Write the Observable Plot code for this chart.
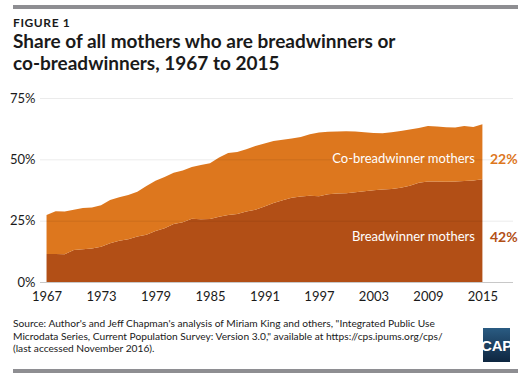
<!DOCTYPE html>
<html>
<head>
<meta charset="utf-8">
<script src="https://cdn.jsdelivr.net/npm/d3@7"></script>
<script src="https://cdn.jsdelivr.net/npm/@observablehq/plot@0.6"></script>
<style>
  html, body { margin: 0; padding: 0; background: #fff; }
  #wrap { position: relative; width: 524px; height: 380px; overflow: hidden; font-family: Lato, "Open Sans", sans-serif; color: #1a1a1a; }
  .bar { position: absolute; left: 13px; width: 505px; height: 4px; background: #8e8e92; }
  #fig { position: absolute; left: 13px; top: 15px; font-size: 12px; font-weight: 700; letter-spacing: 0.6px; }
  #title { position: absolute; left: 13px; top: 30px; font-size: 19px; font-weight: 700; line-height: 22px; }
  #chart { position: absolute; left: 0; top: 85px; }
  #source { position: absolute; left: 13px; top: 317px; font-size: 10.2px; line-height: 12.7px; }
  #logo { position: absolute; left: 483px; top: 328px; width: 27px; height: 34px; background: linear-gradient(#2a5b82, #0e2640); color: #fff; font: 700 15px "Liberation Sans Narrow", sans-serif; display: flex; align-items: center; justify-content: center; letter-spacing: -0.3px; }
</style>
</head>
<body>
<div id="wrap">
  <div class="bar" style="top:5px"></div>
  <div id="fig">FIGURE 1</div>
  <div id="title">Share of all mothers who are breadwinners or<br>co-breadwinners, 1967 to 2015</div>
  <div id="chart"></div>
  <div id="source">Source: Author's and Jeff Chapman's analysis of Miriam King and others, "Integrated Public Use<br>Microdata Series, Current Population Survey: Version 3.0," available at https://cps.ipums.org/cps/<br>(last accessed November 2016).</div>
  <div id="logo">CAP</div>
  <div class="bar" style="top:369px"></div>
</div>
<script>
const years = [1967,1968,1969,1970,1971,1972,1973,1974,1975,1976,1977,1978,1979,1980,1981,1982,1983,1984,1985,1986,1987,1988,1989,1990,1991,1992,1993,1994,1995,1996,1997,1998,1999,2000,2001,2002,2003,2004,2005,2006,2007,2008,2009,2010,2011,2012,2013,2014,2015];
const breadwinner = [11.4,11.4,11.3,13.0,13.3,13.7,14.4,15.8,16.8,17.4,18.5,19.3,20.8,21.9,23.6,24.4,25.8,25.6,25.7,26.6,27.3,27.7,28.7,29.4,30.8,32.2,33.3,34.3,34.8,35.2,35.0,35.8,36.1,36.2,36.6,37.0,37.4,37.7,37.9,38.4,39.2,40.5,41.0,41.0,40.9,41.0,41.2,41.4,41.9];
const coBreadwinner = [15.9,17.4,17.4,16.5,16.9,16.7,16.9,17.6,17.7,18.1,18.3,19.8,20.5,20.9,20.9,21.0,21.1,22.1,22.7,24.1,25.3,25.3,25.4,26.0,25.7,25.3,24.7,24.2,24.3,25.0,25.9,25.4,25.2,25.2,24.7,24.0,23.3,22.9,23.1,23.1,23.0,22.3,22.6,22.4,22.2,22.0,22.4,21.8,22.4];
const seriesNames = ["Breadwinner mothers", "Co-breadwinner mothers"];
const seriesColors = ["#b24f16", "#dd771e"];
const xTicks = [1967,1973,1979,1985,1991,1997,2003,2009,2015];
const yTicks = [0,25,50,75];

const table = [];
seriesNames.forEach((s, i) => {
  const vals = i === 0 ? breadwinner : coBreadwinner;
  years.forEach((y, j) => table.push({year: y, series: s, value: vals[j]}));
});

const last = years.length - 1;
const labelRows = [
  {series: seriesNames[0], year: years[last], mid: breadwinner[last] / 2, pct: Math.round(breadwinner[last]) + "%"},
  {series: seriesNames[1], year: years[last], mid: breadwinner[last] + coBreadwinner[last] / 2, pct: Math.round(coBreadwinner[last]) + "%"}
];

const font = "Lato, 'Open Sans', sans-serif";
const chart = Plot.plot({
  width: 524,
  height: 215,
  marginLeft: 40,
  marginRight: 11,
  marginTop: 13,
  marginBottom: 18,
  style: {fontFamily: font, fontSize: "13px", color: "#1a1a1a", background: "transparent", overflow: "visible"},
  x: {domain: [1966.28, 2018.37], ticks: xTicks, tickFormat: d => String(d), tickSize: 0, tickPadding: 9, label: null},
  y: {domain: [0, 75], ticks: yTicks, tickFormat: d => d + "%", tickSize: 0, tickPadding: 5, label: null},
  color: {domain: seriesNames, range: seriesColors},
  marks: [
    Plot.areaY(table, {x: "year", y: "value", z: "series", fill: "series", order: seriesNames, curve: "linear"}),
    Plot.ruleY(yTicks.slice(1), {stroke: "#000", strokeOpacity: 0.08, strokeWidth: 1}),
    Plot.ruleY([0], {stroke: "#c8c8c8", strokeWidth: 1}),
    Plot.text(labelRows.slice(1), {x: "year", y: "mid", text: "series", textAnchor: "end", dx: -8, dy: 7, fill: "#fff", fontSize: 13}),
    Plot.text(labelRows.slice(0, 1), {x: "year", y: "mid", text: "series", textAnchor: "end", dx: -8, dy: 6, fill: "#fff", fontSize: 13}),
    Plot.text(labelRows.slice(1), {x: "year", y: "mid", text: "pct", textAnchor: "start", dx: 7, dy: 7, fill: seriesColors[1], fontSize: 14, fontWeight: 700}),
    Plot.text(labelRows.slice(0, 1), {x: "year", y: "mid", text: "pct", textAnchor: "start", dx: 7, dy: 6, fill: seriesColors[0], fontSize: 14, fontWeight: 700})
  ]
});
document.getElementById("chart").appendChild(chart);
</script>
</body>
</html>
